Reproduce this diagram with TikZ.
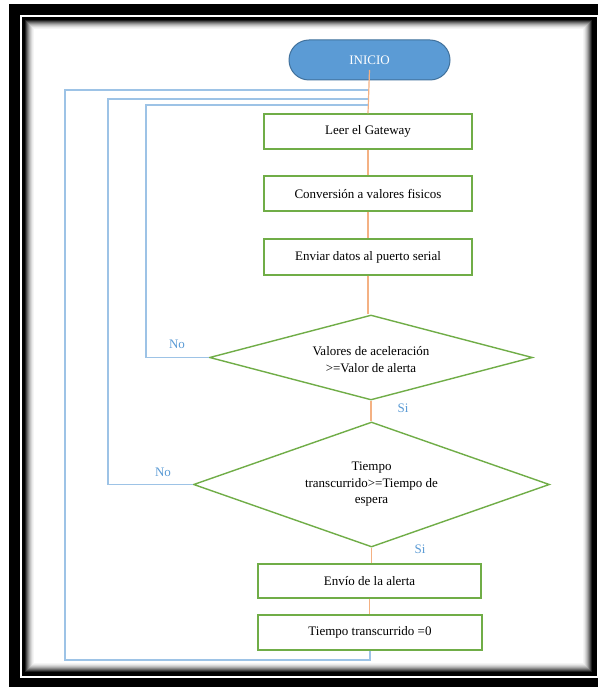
\documentclass[tikz,border=0pt]{standalone}
\usepackage{fontspec}
\setmainfont{Liberation Serif}
\usetikzlibrary{shapes.geometric}
\definecolor{pillfill}{HTML}{5B9BD5}
\definecolor{pilledge}{HTML}{41719C}
\definecolor{boxgreen}{HTML}{70AD47}
\definecolor{flowor}{HTML}{F4B183}
\definecolor{loopblue}{HTML}{9DC3E6}
\definecolor{lblblue}{HTML}{5B9BD5}
\tikzset{
  procbox/.style={draw=boxgreen, line width=1.4pt, fill=white, inner sep=0pt,
    minimum width=208pt, minimum height=35pt},
  decision/.style={diamond, draw=boxgreen, line width=1.4pt, fill=white, inner sep=0pt},
  pill/.style={rounded rectangle, draw=pilledge, line width=1pt, fill=pillfill,
    text=white, minimum width=161pt, minimum height=40pt, inner sep=0pt},
  flowline/.style={draw=flowor, line width=1.2pt},
  loopline/.style={draw=loopblue, line width=1.3pt},
  branch/.style={text=lblblue, inner sep=0pt},
}
\usetikzlibrary{shapes.misc}
\begin{document}
\begin{tikzpicture}[x=1pt, y=-1pt, font=\fontsize{13}{16.5}\selectfont]
\useasboundingbox (0,0) rectangle (598,687);
\fill[white] (0,0) rectangle (598,687);
% page frame with inner shadow
\fill[black] (9,4.5) rectangle (598,687);
\draw[white, line width=1.5pt] (21,16) rectangle (597.5,677);
\fill[black] (22,17) rectangle (595,675);
\foreach \i/\g in {0/88,1/72,2/58,3/45,4/33,5/23,6/15,7/8,8/4,9/0}
  \fill[black!\g] (25+\i,20+\i) rectangle (592-\i,672-\i);

% nodes
\node[pill] (inicio) at (369.5,60) {INICIO};
\node[procbox] (leer) at (368,131.5) {Leer el Gateway};
\node[procbox] (conv) at (368,193.5) {Conversión a valores fisicos};
\node[procbox, minimum height=36pt] (enviar) at (368,257) {Enviar datos al puerto serial};
\node[decision, minimum width=323pt, minimum height=85pt] (d1) at (371,357.5) {};
\node[align=center, inner sep=0pt] (d1t) at (371,359.5) {Valores de aceleración\\>=Valor de alerta};
\node[decision, minimum width=356pt, minimum height=125pt] (d2) at (371.5,484.5) {};
\node[align=center, inner sep=0pt] (d2t) at (371.5,484.5) {Tiempo\\transcurrido>=Tiempo de\\espera};
\node[procbox, minimum width=223pt, minimum height=34pt] (envio) at (369.5,581) {Envío de la alerta};
\node[procbox, minimum width=224pt] (tz) at (370,632.5) {Tiempo transcurrido =0};

% branch labels
\node[branch] (no1) at (177,344) {No};
\node[branch] (no2) at (163,472) {No};
\node[branch] (si1) at (403,408) {Si};
\node[branch] (si2) at (420,549) {Si};

% main flow
\draw[flowline] ([yshift=-10pt]inicio.center) -- (leer.north);
\draw[flowline] (leer.south) -- (conv.north);
\draw[flowline] (conv.south) -- (enviar.north);
\draw[flowline] (enviar.south) -- (enviar.south |- d1.north);
\draw[flowline] (d1.south) -- (d1.south |- d2.north);
\draw[flowline] (d2.south) -- (d2.south |- envio.north);
\draw[flowline] (envio.south) -- (envio.south |- tz.north);

% return loops
\coordinate (aLow) at (65,660);
\coordinate (aTop) at (65,90);
\coordinate (bTop) at (108,99);
\coordinate (cTop) at (146,105);
\draw[loopline] (tz.south) |- (aLow) -- (aTop) -- (aTop -| leer.north);
\draw[loopline] (d2.west) -| (bTop) -- (bTop -| leer.north);
\draw[loopline] (d1.west) -| (cTop) -- (cTop -| leer.north);
\end{tikzpicture}
\end{document}
